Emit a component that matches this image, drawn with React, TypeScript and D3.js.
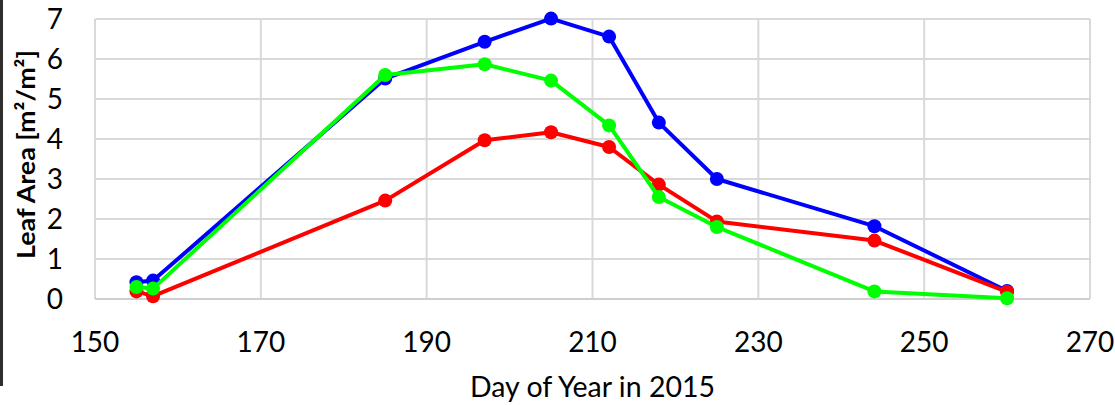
import React from "react";
import * as d3 from "d3";

const days = [155, 157, 185, 197, 205, 212, 218, 225, 244, 260];
const blueSeries = [0.42, 0.46, 5.51, 6.43, 7.01, 6.56, 4.41, 3.0, 1.82, 0.2];
const redSeries = [0.19, 0.07, 2.46, 3.97, 4.17, 3.8, 2.86, 1.94, 1.46, 0.18];
const greenSeries = [0.3, 0.26, 5.6, 5.87, 5.46, 4.34, 2.55, 1.8, 0.19, 0.02];
const xTicks = [150, 170, 190, 210, 230, 250, 270];
const yTicks = [0, 1, 2, 3, 4, 5, 6, 7];

const seriesList = [
  { name: "blue", values: blueSeries, color: "#0000FF" },
  { name: "red", values: redSeries, color: "#FF0000" },
  { name: "green", values: greenSeries, color: "#00FF00" },
];

const W = 1115;
const H = 405;
const left = 95;
const right = 1090;
const top = 19;
const bottom = 299;
const FONT = "Lato, 'Open Sans', sans-serif";

export default function App() {
  const x = d3.scaleLinear().domain([150, 270]).range([left, right]);
  const y = d3.scaleLinear().domain([0, 7]).range([bottom, top]);
  const line = d3
    .line<number>()
    .x((_, i) => x(days[i]))
    .y((v) => y(v));

  return (
    <svg
      width={W}
      height={H}
      style={{ position: "absolute", left: 0, top: 0, background: "#fff" }}
      fontFamily={FONT}
    >
      <rect x={0} y={0} width={W} height={H} fill="#fff" />
      <rect x={0} y={0} width={3} height={386} fill="#2e2e2e" />
      {/* gridlines */}
      {yTicks.map((t) => (
        <line key={"gy" + t} x1={left} x2={right} y1={y(t)} y2={y(t)} stroke="#d9d9d9" strokeWidth={2} />
      ))}
      {xTicks.map((t) => (
        <line key={"gx" + t} x1={x(t)} x2={x(t)} y1={top} y2={bottom} stroke="#d9d9d9" strokeWidth={2} />
      ))}
      <line x1={left} x2={right} y1={bottom} y2={bottom} stroke="#cfcfcf" strokeWidth={2} />
      {/* y tick labels */}
      {yTicks.map((t) => (
        <text key={"ty" + t} x={63} y={y(t)} dy="0.36em" textAnchor="end" fontSize={28} fill="#000">
          {t}
        </text>
      ))}
      {/* x tick labels */}
      {xTicks.map((t) => (
        <text key={"tx" + t} x={x(t)} y={352} textAnchor="middle" fontSize={28} fill="#000">
          {t}
        </text>
      ))}
      <text
        x={(left + right) / 2}
        y={397}
        textAnchor="middle"
        fontSize={28}
        fill="#000"
        textLength={245}
        lengthAdjust="spacingAndGlyphs"
      >
        Day of Year in 2015
      </text>
      <text
        transform={`translate(35, ${(50 + 259) / 2}) rotate(-90)`}
        textAnchor="middle"
        fontSize={25}
        fontWeight="bold"
        fill="#000"
        textLength={209}
        lengthAdjust="spacingAndGlyphs"
      >
        Leaf Area [m²/m²]
      </text>
      {/* series */}
      {seriesList.map((s) => (
        <g key={s.name}>
          <path d={line(s.values) || ""} fill="none" stroke={s.color} strokeWidth={4} strokeLinejoin="round" />
          {s.values.map((v, i) => (
            <circle key={i} cx={x(days[i])} cy={y(v)} r={7} fill={s.color} />
          ))}
        </g>
      ))}
    </svg>
  );
}
